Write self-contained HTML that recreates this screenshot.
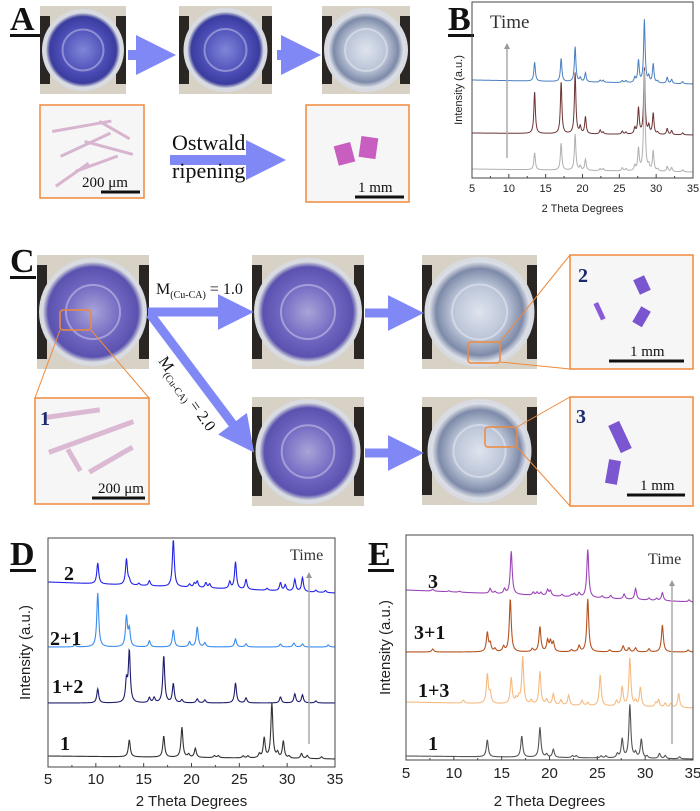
<!DOCTYPE html>
<html><head><meta charset="utf-8">
<style>
html,body{margin:0;padding:0;background:#fff;width:700px;height:811px;overflow:hidden}
svg{display:block}
.ser{font-family:"Liberation Serif",serif}
.san{font-family:"Liberation Sans",sans-serif}
</style></head>
<body>
<svg id="fig" width="700" height="811" viewBox="0 0 700 811" xmlns="http://www.w3.org/2000/svg">
<defs>
<radialGradient id="dishBlue" cx="50%" cy="50%" r="50%"><stop offset="0" stop-color="#7f86d8"/><stop offset="0.6" stop-color="#4e4fb8"/><stop offset="0.9" stop-color="#3a3c9e"/><stop offset="1" stop-color="#c8ccd8"/></radialGradient>
<radialGradient id="dishPurple" cx="50%" cy="50%" r="50%"><stop offset="0" stop-color="#a9a4d8"/><stop offset="0.6" stop-color="#6d64c0"/><stop offset="0.9" stop-color="#5a52ae"/><stop offset="1" stop-color="#d0d2dc"/></radialGradient>
<radialGradient id="dishClear" cx="50%" cy="50%" r="50%"><stop offset="0" stop-color="#dfe4ee"/><stop offset="0.55" stop-color="#b9c3d6"/><stop offset="0.85" stop-color="#7d8aa8"/><stop offset="1" stop-color="#e4e6ec"/></radialGradient>
<marker id="ah" markerWidth="4" markerHeight="4" refX="2" refY="2" orient="auto" markerUnits="strokeWidth"><path d="M0,0 L4,2 L0,4 z" fill="#8088f5"/></marker>
<marker id="gah" markerWidth="6" markerHeight="6" refX="3" refY="3" orient="auto" markerUnits="userSpaceOnUse"><path d="M0,0 L6,3 L0,6 z" fill="#999"/></marker>
</defs>
<g id="photos"></g>
<g id="charts"></g>
</svg>
<script>
// ---------------- chart data ----------------
const ticksX = [5,10,15,20,25,30,35];
const peaksP1 = [13.5,17.1,19.0,19.7,20.4,22.4,22.8,25.4,25.9,27.1,27.6,28.4,29.0,29.6,30.2,31.5,32.1,33.6];
// Panel B
const bNames = ['blue','brown','gray'];
const bColors = ['#4a7fc0','#6b3434','#b0b0b0'];
const bBaseL = [98,45,9];
const bBaseR = [94,43,6];
const bBlue  = [19,23,35,4,9,2,2,2,2,5,22,63,6,19,2,6,4,2];
const bBrown = [42,52,61,7,17,4,2,3,2,6,26,66,8,21,2,6,4,2];
const bGray  = [17,27,36,4,11,2,2,3,2,5,22,100,5,20,2,5,4,2];
// Panel D
const dLabels = ['2','2+1','1+2','1'];
const dColors = ['#2323e8','#3a8cef','#1d1d6e','#333333'];
const dBaseL = [185,120,64,11];
const dBaseR = [174,120,64,8];
const d2Pos = [10.2,13.2,13.5,14.5,15.6,18.1,19.8,20.3,20.6,21.5,21.9,24.0,24.6,25.7,27.9,29.3,29.8,30.8,31.6,33,34];
const d2H   = [21,26,4,2,5,47,3,4,6,5,4,7,27,10,2,8,6,12,14,2,2];
const d21Pos = [7.8,10.2,13.2,13.5,15.6,18.1,19.8,20.6,21.4,24.6,25.7,29.3,30.7,31.6,34.3];
const d21H   = [2,54,30,17,6,17,5,20,4,8,3,3,4,3,2];
const d12Pos = [10.2,13.2,13.5,15.6,16.1,17.1,18.1,19,20.6,21.4,24.6,25.7,29.3,30.8,31.6,33];
const d12H   = [14,21,51,5,5,47,19,3,4,3,20,5,6,9,8,2];
const d1H    = [17,21,30,3,9,2,2,2,2,4,20,55,5,17,2,5,3,2];
// Panel E
const eLabels = ['3','3+1','1+3','1'];
const eColors = ['#9c45b8','#b4531f','#f6bb80','#555555'];
const eBaseL = [170,108,58,4];
const eBaseR = [158,108,52,1];
const e3Pos = [7.8,9.5,10.6,13.8,14.3,15.3,16.0,18.3,18.7,19.1,19.8,20.1,21.3,22.3,22.6,23.1,24.0,25.5,26.4,27.8,29.0,30.4,31.2,31.8,34.6];
const e3H   = [2,1,1,5,2,5,43,3,3,3,6,5,2,2,3,4,48,2,3,5,11,2,2,8,2];
const e31Pos = [7.8,13.5,13.8,14.3,15.2,15.9,18.2,19.0,19.8,20.1,20.4,22.3,23.1,24.0,26.3,27.7,28.3,29.0,30.4,31.8,34.5];
const e31H   = [3,19,8,3,5,53,3,25,11,10,9,2,6,53,2,6,4,4,3,27,2];
const e13Pos = [11,13.5,13.8,16.0,16.5,16.8,17.2,18.1,19.0,19.7,20.4,21.2,22.0,23.4,24.0,25.3,27.0,27.6,28.4,29.0,29.5,31.1,31.4,32.1,32.7,33.5];
const e13H   = [3,29,10,26,5,6,47,4,33,5,11,5,10,5,3,31,5,19,48,5,19,4,7,4,4,14];
const e1H    = [17,21,30,3,8,2,2,2,2,4,19,53,5,19,2,5,3,2];

const NS='http://www.w3.org/2000/svg';
const charts=document.getElementById('charts');
function mk(tag,attrs,parent,text){const e=document.createElementNS(NS,tag);for(const k in attrs)e.setAttribute(k,attrs[k]);if(text!==undefined)e.textContent=text;(parent||charts).appendChild(e);return e;}

function panel(cfg){
  const g=mk('g',{});
  
  
  const xs=v=>cfg.x0+(v-5)/30*(cfg.x1-cfg.x0);
  const ys=v=>cfg.y1-v;
  cfg.series.forEach((s,i)=>{
    let d='';
    for(let x=5;x<=35.0001;x+=0.04){
      let v=s.bl+(s.br-s.bl)*(x-5)/30;
      for(let j=0;j<s.pos.length;j++){const t=(x-s.pos[j])/0.12;v+=s.h[j]/(1+t*t);}
      d+=(d?'L':'M')+xs(x).toFixed(2)+','+ys(v).toFixed(2);
    }
    const p=mk('path',{d:d,fill:'none',stroke:s.color,'stroke-width':cfg.sw||1},g);
    
    
  });
  const fr=mk('rect',{x:cfg.x0,y:cfg.y0,width:cfg.x1-cfg.x0,height:cfg.y1-cfg.y0,fill:'none',stroke:'#444','stroke-width':1},g);
  
  
  for(let v=5;v<=35;v+=2.5){
    const major=(v%5===0);
    mk('line',{x1:xs(v),x2:xs(v),y1:cfg.y1,y2:cfg.y1-(major?4:2),stroke:'#444'},g);
  }
  ticksX.forEach(v=>{
    const t=mk('text',{x:xs(v),y:cfg.tickY,'text-anchor':'middle','font-size':cfg.fs,class:'san',fill:'#222'},g,String(v));
    
    
  });
  const xt=mk('text',{x:(cfg.x0+cfg.x1)/2,y:cfg.titleY,'text-anchor':'middle','font-size':cfg.fs,class:'san',fill:'#222'},g,'2 Theta Degrees');
  
  
  const yt=mk('text',{x:0,y:0,'text-anchor':'middle','font-size':cfg.fs,class:'san',fill:'#222',transform:'translate('+cfg.ylx+','+(cfg.y0+cfg.y1)/2+') rotate(-90)'},g,'Intensity (a.u.)');
  
  
  const ar=mk('line',{x1:cfg.ax,x2:cfg.ax,y1:cfg.ay1,y2:cfg.ay0+6,stroke:'#aaa','stroke-width':1.5,'marker-end':'url(#gah)'},g);
  
  
  const tt=mk('text',{x:cfg.tx,y:cfg.ty,'font-size':cfg.tfs,class:'ser',fill:'#333'},g,'Time');
  
  
  (cfg.labels||[]).forEach(l=>{
    const t=mk('text',{x:l.x,y:l.y,'font-size':20,'font-weight':'bold',class:'ser',fill:'#111'},g,l.t);
    
    
  });
}

panel({name:'panel-b-chart',x0:472,x1:693,y0:2,y1:178,fs:11,tickY:192,titleY:212,ylx:462,ax:507,ay0:40,ay1:158,tx:490,ty:28,tfs:19,sw:1,
  series:[
   {id:bNames[0],color:bColors[0],bl:bBaseL[0],br:bBaseR[0],pos:peaksP1,h:bBlue},
   {id:bNames[1],color:bColors[1],bl:bBaseL[1],br:bBaseR[1],pos:peaksP1,h:bBrown},
   {id:bNames[2],color:bColors[2],bl:bBaseL[2],br:bBaseR[2],pos:peaksP1,h:bGray}]});
panel({name:'panel-d-chart',x0:48,x1:335,y0:538,y1:767,fs:15,tickY:784,titleY:806,ylx:30,ax:309,ay0:569,ay1:744,tx:290,ty:560,tfs:16,sw:1.1,
  series:[
   {id:'d-'+dLabels[0],color:dColors[0],bl:dBaseL[0],br:dBaseR[0],pos:d2Pos,h:d2H},
   {id:'d-'+dLabels[1],color:dColors[1],bl:dBaseL[1],br:dBaseR[1],pos:d21Pos,h:d21H},
   {id:'d-'+dLabels[2],color:dColors[2],bl:dBaseL[2],br:dBaseR[2],pos:d12Pos,h:d12H},
   {id:'d-'+dLabels[3],color:dColors[3],bl:dBaseL[3],br:dBaseR[3],pos:peaksP1,h:d1H}],
  labels:[{t:dLabels[0],x:64,y:580},{t:dLabels[1],x:50,y:645},{t:dLabels[2],x:52,y:693},{t:dLabels[3],x:60,y:750}]});
panel({name:'panel-e-chart',x0:406,x1:693,y0:535,y1:760,fs:15,tickY:778,titleY:806,ylx:390,ax:672,ay0:577,ay1:744,tx:648,ty:564,tfs:16,sw:1.1,
  series:[
   {id:'e-'+eLabels[0],color:eColors[0],bl:eBaseL[0],br:eBaseR[0],pos:e3Pos,h:e3H},
   {id:'e-'+eLabels[1],color:eColors[1],bl:eBaseL[1],br:eBaseR[1],pos:e31Pos,h:e31H},
   {id:'e-'+eLabels[2],color:eColors[2],bl:eBaseL[2],br:eBaseR[2],pos:e13Pos,h:e13H},
   {id:'e-'+eLabels[3],color:eColors[3],bl:eBaseL[3],br:eBaseR[3],pos:peaksP1,h:e1H}],
  labels:[{t:eLabels[0],x:428,y:588},{t:eLabels[1],x:414,y:639},{t:eLabels[2],x:418,y:697},{t:eLabels[3],x:428,y:750}]});

// ---------------- photos / schematic ----------------
const ph=document.getElementById('photos');
function P(tag,attrs,text){return mk(tag,attrs,ph,text);}
function dish(x0,y0,x1,y1,grad,name){
  const g=mk('g',{},ph);
  
  
  mk('rect',{x:x0,y:y0,width:x1-x0,height:y1-y0,fill:'#d8d2c6'},g);
  mk('rect',{x:x0,y:y0+10,width:10,height:y1-y0-20,fill:'#2a2624'},g);
  mk('rect',{x:x1-10,y:y0+10,width:10,height:y1-y0-20,fill:'#2a2624'},g);
  const cx=(x0+x1)/2,cy=(y0+y1)/2,r=Math.min(x1-x0,y1-y0)/2-2;
  mk('circle',{cx:cx,cy:cy,r:r,fill:'#d9dbe2'},g);
  mk('circle',{cx:cx,cy:cy,r:r-4,fill:'url(#'+grad+')'},g);
  mk('circle',{cx:cx,cy:cy,r:r*0.5,fill:'none',stroke:'rgba(255,255,255,0.35)','stroke-width':2},g);
}
function arrow(x1,y1,x2,y2,w,name){
  const l=P('line',{x1:x1,y1:y1,x2:x2-w*1.8*(x2-x1)/Math.hypot(x2-x1,y2-y1),y2:y2-w*1.8*(y2-y1)/Math.hypot(x2-x1,y2-y1),stroke:'#8088f5','stroke-width':w,'marker-end':'url(#ah)'});
  
  
}
function label(t,x,y,name){
  const e=P('text',{x:x,y:y,'font-size':34,'font-weight':'bold',class:'ser',fill:'#111'},t);
  
  
  const w=t==='A'?30:26;
  P('rect',{x:x,y:y+4,width:w,height:3,fill:'#111'});
}
function inset(x0,y0,x1,y1,name){
  const r=P('rect',{x:x0,y:y0,width:x1-x0,height:y1-y0,fill:'#f7f6f7',stroke:'#ef8a3c','stroke-width':1.5});
  
  
}
function scale(x1,x2,y,t,tx,name){
  P('rect',{x:x1,y:y-1.5,width:x2-x1,height:3,fill:'#111'});
  const e=P('text',{x:tx,y:y-5,'font-size':15,class:'ser',fill:'#111'},t);
  
  
}
function rod(x,y,len,ang,w,col){P('rect',{x:x,y:y,width:len,height:w,fill:col,transform:'rotate('+ang+' '+x+' '+y+')'});}

// Panel A
label('A',10,30,'panel-label-a');
dish(40,6,126,94,'dishBlue','a-dish-1');
dish(179,6,272,94,'dishBlue','a-dish-2');
dish(322,6,410,94,'dishClear','a-dish-3');
arrow(128,55,174,55,10,'a-arrow-1');
arrow(277,55,319,55,10,'a-arrow-2');
inset(40,105,144,198,'a-inset-needles');
[[52,130,60,-10],[60,155,55,-25],[75,170,45,-20],[85,140,50,15],[100,120,35,30],[55,185,40,-35]].forEach(r=>rod(r[0],r[1],r[2],r[3],3,'#d7b5cf'));
scale(101,140,192,'200 μm',82,'a-scale-200um');
inset(306,105,409,202,'a-inset-crystals');
P('rect',{x:336,y:144,width:17,height:20,fill:'#c85ec0',transform:'rotate(-15 344 154)'});
P('rect',{x:360,y:137,width:17,height:21,fill:'#c85ec0',transform:'rotate(8 368 147)'});
scale(355,404,197,'1 mm',358,'a-scale-1mm');
arrow(170,160,284,160,10,'ostwald-arrow');
(function(){const t=P('text',{x:172,y:150,'font-size':22,class:'ser',fill:'#111'},'Ostwald');
const t2=P('text',{x:172,y:178,'font-size':22,class:'ser',fill:'#111'},'ripening');})();
label('B',448,30,'panel-label-b');

// Panel C
label('C',10,272,'panel-label-c');
dish(37,255,149,369,'dishPurple','c-dish-start');
dish(252,255,364,369,'dishPurple','c-dish-m1-mid');
dish(422,255,537,369,'dishClear','c-dish-m1-end');
dish(252,397,364,506,'dishPurple','c-dish-m2-mid');
dish(422,397,537,505,'dishClear','c-dish-m2-end');
P('rect',{x:60,y:310,width:31,height:20,fill:'none',stroke:'#ef8a3c','stroke-width':1.5,rx:3});
P('line',{x1:60,y1:330,x2:35,y2:398,stroke:'#ef8a3c'});
P('line',{x1:91,y1:330,x2:149,y2:398,stroke:'#ef8a3c'});
inset(35,398,149,504,'c-inset-1');
[[45,415,55,-8],[48,450,90,-20],[88,470,50,-30],[70,448,25,60]].forEach(r=>rod(r[0],r[1],r[2],r[3],5,'#dbb9d2'));
(function(){const t=P('text',{x:40,y:425,'font-size':20,'font-weight':'bold',class:'ser',fill:'#1a2a6e'},'1');})();
scale(92,145,498,'200 μm',98,'c-scale-200um');
P('rect',{x:468,y:342,width:32,height:21,fill:'none',stroke:'#ef8a3c','stroke-width':1.5,rx:3});
P('line',{x1:500,y1:342,x2:570,y2:255,stroke:'#ef8a3c'});
P('line',{x1:500,y1:362,x2:570,y2:369,stroke:'#ef8a3c'});
inset(570,255,693,369,'c-inset-2');
P('rect',{x:636,y:277,width:12,height:16,fill:'#7a55d0',transform:'rotate(-25 642 285)'});
P('rect',{x:636,y:308,width:11,height:18,fill:'#7a55d0',transform:'rotate(30 642 317)'});
rod(598,302,18,65,5,'#8a5ad8');
(function(){const t=P('text',{x:578,y:282,'font-size':20,'font-weight':'bold',class:'ser',fill:'#1a2a6e'},'2');})();
scale(609,684,361,'1 mm',630,'c-scale-1mm-2');
P('rect',{x:485,y:427,width:32,height:20,fill:'none',stroke:'#ef8a3c','stroke-width':1.5,rx:3});
P('line',{x1:517,y1:427,x2:570,y2:397,stroke:'#ef8a3c'});
P('line',{x1:517,y1:447,x2:570,y2:506,stroke:'#ef8a3c'});
inset(570,397,693,506,'c-inset-3');
P('rect',{x:614,y:422,width:12,height:30,fill:'#7c55d0',transform:'rotate(-25 620 437)'});
P('rect',{x:607,y:460,width:12,height:24,fill:'#7c55d0',transform:'rotate(10 613 472)'});
(function(){const t=P('text',{x:576,y:423,'font-size':20,'font-weight':'bold',class:'ser',fill:'#1a2a6e'},'3');})();
scale(627,685,495,'1 mm',640,'c-scale-1mm-3');
arrow(148,312,252,312,9,'c-arrow-m1');
arrow(150,314,253,451,9,'c-arrow-m2');
arrow(365,313,422,313,9,'c-arrow-m1-end');
arrow(365,453,422,453,9,'c-arrow-m2-end');
(function(){
const t=P('text',{x:156,y:294,'font-size':16,class:'ser',fill:'#111'});


t.innerHTML='M<tspan font-size="10" dy="4">(Cu-CA)</tspan><tspan dy="-4"> = 1.0</tspan>';
const t2=P('text',{x:0,y:0,'font-size':16,class:'ser',fill:'#111',transform:'translate(158,361) rotate(55)'});


t2.innerHTML='M<tspan font-size="10" dy="4">(Cu-CA)</tspan><tspan dy="-4"> = 2.0</tspan>';
})();
label('D',10,565,'panel-label-d');
label('E',368,565,'panel-label-e');
</script>
</body></html>
